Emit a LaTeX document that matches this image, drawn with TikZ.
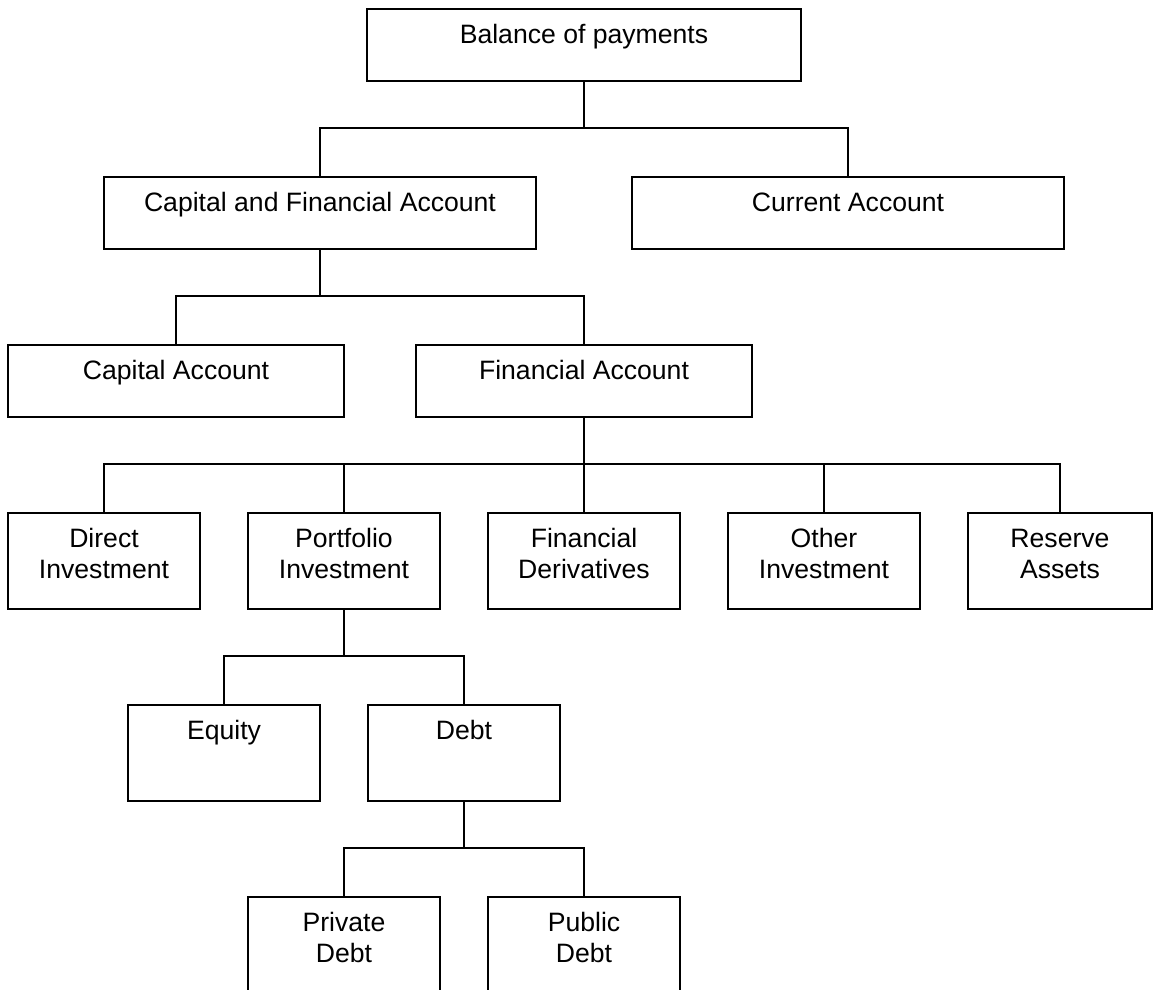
\documentclass[tikz,border=0pt]{standalone}
\usepackage{fontspec}
\setmainfont{Liberation Sans}
\newcommand\boxtext[1]{\begin{tabular}[t]{@{}c@{}}#1\end{tabular}}
\begin{document}
\begin{tikzpicture}[x=1pt,y=-1pt,
  font=\fontsize{26.6pt}{31pt}\selectfont,
  box/.style={draw, line width=1.7pt, inner sep=0pt, anchor=north, text height=35pt},
  one/.style={box, text depth=37pt},
  two/.style={box, text depth=61pt},
  cut/.style={box, text depth=70pt},
  wide/.style={minimum width=432pt},
  mid/.style={minimum width=336pt},
  narrow/.style={minimum width=192pt},
  conn/.style={line width=1.4pt}]
\useasboundingbox (0,0) rectangle (1154,990);
\clip (0,0) rectangle (1154,990);

\node[one, minimum width=434pt] (bop) at (584,8) {\boxtext{Balance of payments}};
\node[one, wide] (cfa) at (320,176) {\boxtext{Capital and Financial Account}};
\node[one, wide] (cur) at (848,176) {\boxtext{Current Account}};
\node[one, mid] (cap) at (176,344) {\boxtext{Capital Account}};
\node[one, mid] (fin) at (584,344) {\boxtext{Financial Account}};
\node[two, narrow] (di) at (104,512) {\boxtext{Direct\\Investment}};
\node[two, narrow] (pi) at (344,512) {\boxtext{Portfolio\\Investment}};
\node[two, narrow] (fd) at (584,512) {\boxtext{Financial\\Derivatives}};
\node[two, narrow] (oi) at (824,512) {\boxtext{Other\\Investment}};
\node[two, minimum width=184pt] (ra) at (1060,512) {\boxtext{Reserve\\Assets}};
\node[two, narrow] (eq) at (224,704) {\boxtext{Equity}};
\node[two, narrow] (debt) at (464,704) {\boxtext{Debt}};
\node[cut, narrow] (priv) at (344,896) {\boxtext{Private\\Debt}};
\node[cut, narrow] (pub) at (584,896) {\boxtext{Public\\Debt}};

\coordinate (b1) at (584,128);
\coordinate (b2) at (320,296);
\coordinate (b3) at (584,464);
\coordinate (b4) at (344,656);
\coordinate (b5) at (464,848);

\draw[conn] (bop.south) -- (b1);
\draw[conn] (cfa.north) |- (b1) -| (cur.north);

\draw[conn] (cfa.south) -- (b2);
\draw[conn] (cap.north) |- (b2) -| (fin.north);

\draw[conn] (fin.south) -- (b3);
\draw[conn] (di.north) |- (b3) -| (ra.north);
\draw[conn] (pi.north) -- (pi.north |- b3);
\draw[conn] (fd.north) -- (b3);
\draw[conn] (oi.north) -- (oi.north |- b3);

\draw[conn] (pi.south) -- (b4);
\draw[conn] (eq.north) |- (b4) -| (debt.north);

\draw[conn] (debt.south) -- (b5);
\draw[conn] (priv.north) |- (b5) -| (pub.north);
\end{tikzpicture}
\end{document}
